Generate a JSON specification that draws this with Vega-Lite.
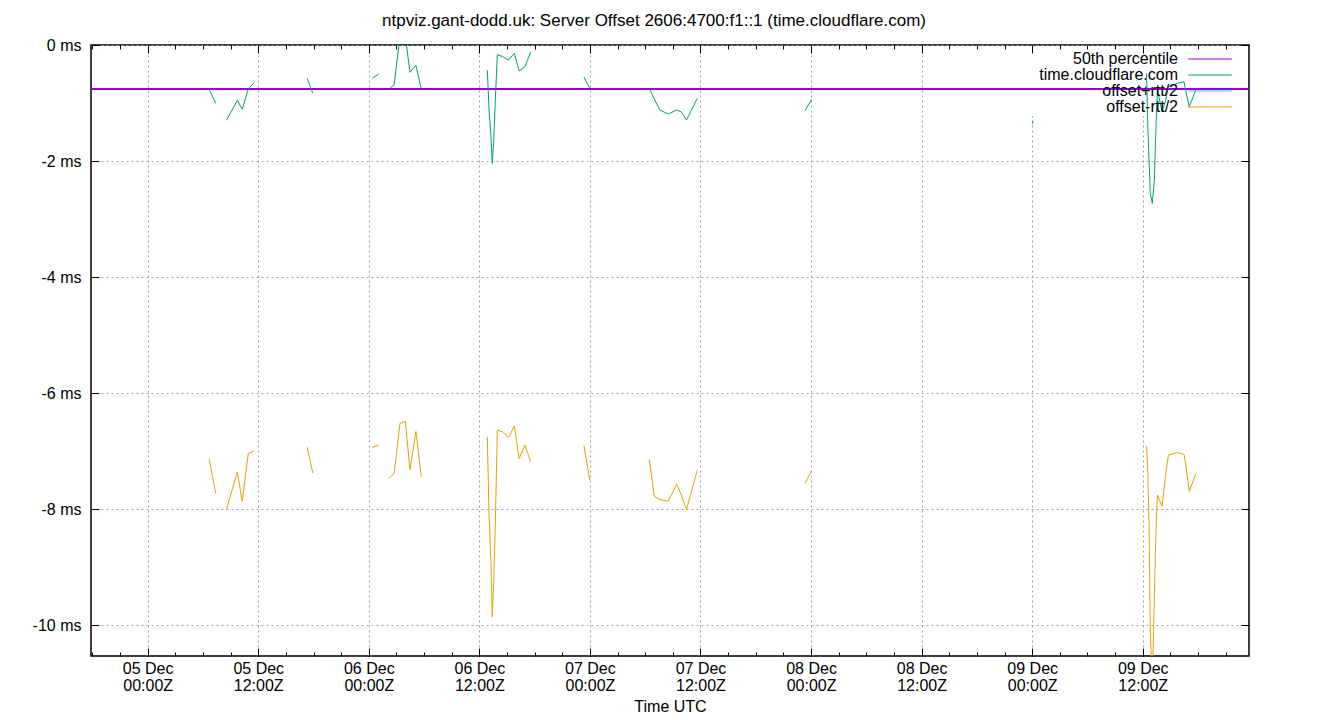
{
  "$schema": "https://vega.github.io/schema/vega-lite/v6.json",
  "width": 1158,
  "height": 611,
  "autosize": "none",
  "padding": {"left": 91, "top": 45, "right": 91, "bottom": 64},
  "background": "white",
  "title": {
    "text": "ntpviz.gant-dodd.uk: Server Offset 2606:4700:f1::1 (time.cloudflare.com)",
    "font": "Liberation Sans",
    "fontSize": 17,
    "fontWeight": "normal",
    "color": "black",
    "anchor": "middle",
    "dx": -16,
    "offset": 7.5
  },
  "config": {
    "font": "Liberation Sans",
    "view": {"stroke": "black", "strokeWidth": 1.5},
    "axis": {
      "labelFont": "Liberation Sans",
      "labelFontSize": 16,
      "labelColor": "black",
      "titleFont": "Liberation Sans",
      "titleFontSize": 16,
      "titleFontWeight": "normal",
      "titleColor": "black",
      "tickColor": "black",
      "tickWidth": 1,
      "domain": false,
      "gridColor": "#a0a0a0",
      "gridDash": [2, 3],
      "gridWidth": 1,
      "labelOverlap": false,
      "labelFlush": false
    }
  },
  "data": {
    "values": [
      {"t": "2024-12-05T06:41:00Z", "seg": "A", "off": -0.764, "low": -7.138},
      {"t": "2024-12-05T07:23:00Z", "seg": "A", "off": -1.005, "low": -7.729},
      {"t": "2024-12-05T08:33:00Z", "seg": "B", "off": -1.298, "low": -8.0},
      {"t": "2024-12-05T09:44:00Z", "seg": "B", "off": -0.953, "low": -7.362},
      {"t": "2024-12-05T10:16:00Z", "seg": "B", "off": -1.109, "low": -7.867},
      {"t": "2024-12-05T10:55:00Z", "seg": "B", "off": -0.753, "low": -7.04},
      {"t": "2024-12-05T11:30:00Z", "seg": "B", "off": -0.66, "low": -7.0},
      {"t": "2024-12-05T17:19:00Z", "seg": "C", "off": -0.574, "low": -6.931},
      {"t": "2024-12-05T17:55:00Z", "seg": "C", "off": -0.833, "low": -7.374},
      {"t": "2024-12-06T00:23:00Z", "seg": "D", "off": -0.574, "low": -6.936},
      {"t": "2024-12-06T01:04:00Z", "seg": "D", "off": -0.5, "low": -6.897},
      {"t": "2024-12-06T02:10:00Z", "seg": "E", "off": -0.764, "low": -7.47},
      {"t": "2024-12-06T02:45:00Z", "seg": "E", "off": -0.684, "low": -7.384},
      {"t": "2024-12-06T03:23:00Z", "seg": "E", "off": 0.15, "low": -6.52},
      {"t": "2024-12-06T03:58:00Z", "seg": "E", "off": 0.15, "low": -6.488},
      {"t": "2024-12-06T04:28:00Z", "seg": "E", "off": -0.471, "low": -7.316},
      {"t": "2024-12-06T05:07:00Z", "seg": "E", "off": -0.35, "low": -6.66},
      {"t": "2024-12-06T05:42:00Z", "seg": "E", "off": -0.764, "low": -7.443},
      {"t": "2024-12-06T12:52:00Z", "seg": "F", "off": -0.431, "low": -6.753},
      {"t": "2024-12-06T13:03:00Z", "seg": "F", "off": -1.121, "low": -8.103},
      {"t": "2024-12-06T13:16:00Z", "seg": "F", "off": -1.581, "low": -8.93},
      {"t": "2024-12-06T13:24:00Z", "seg": "F", "off": -2.04, "low": -9.857},
      {"t": "2024-12-06T13:34:00Z", "seg": "F", "off": -1.638, "low": -9.224},
      {"t": "2024-12-06T13:44:00Z", "seg": "F", "off": -0.948, "low": -8.247},
      {"t": "2024-12-06T13:57:00Z", "seg": "F", "off": -0.167, "low": -6.638},
      {"t": "2024-12-06T14:31:00Z", "seg": "F", "off": -0.2, "low": -6.667},
      {"t": "2024-12-06T15:10:00Z", "seg": "F", "off": -0.259, "low": -6.764},
      {"t": "2024-12-06T15:48:00Z", "seg": "F", "off": -0.143, "low": -6.569},
      {"t": "2024-12-06T16:19:00Z", "seg": "F", "off": -0.448, "low": -7.126},
      {"t": "2024-12-06T16:57:00Z", "seg": "F", "off": -0.374, "low": -6.897},
      {"t": "2024-12-06T17:34:00Z", "seg": "F", "off": -0.121, "low": -7.184},
      {"t": "2024-12-06T23:21:00Z", "seg": "G", "off": -0.552, "low": -6.897},
      {"t": "2024-12-06T23:59:00Z", "seg": "G", "off": -0.747, "low": -7.5},
      {"t": "2024-12-07T06:27:00Z", "seg": "H", "off": -0.747, "low": -7.143},
      {"t": "2024-12-07T06:59:00Z", "seg": "H", "off": -0.931, "low": -7.776},
      {"t": "2024-12-07T07:36:00Z", "seg": "H", "off": -1.121, "low": -7.833},
      {"t": "2024-12-07T08:30:00Z", "seg": "H", "off": -1.19, "low": -7.862},
      {"t": "2024-12-07T09:25:00Z", "seg": "H", "off": -1.121, "low": -7.569},
      {"t": "2024-12-07T09:53:00Z", "seg": "H", "off": -1.15, "low": -7.74},
      {"t": "2024-12-07T10:29:00Z", "seg": "H", "off": -1.293, "low": -8.005},
      {"t": "2024-12-07T11:39:00Z", "seg": "H", "off": -0.919, "low": -7.328},
      {"t": "2024-12-07T23:21:00Z", "seg": "I", "off": -1.133, "low": -7.55},
      {"t": "2024-12-08T00:04:00Z", "seg": "I", "off": -0.936, "low": -7.33},
      {"t": "2024-12-09T00:03:00Z", "seg": "J", "off": -1.31, "low": null},
      {"t": "2024-12-09T00:04:00Z", "seg": "J", "off": -1.36, "low": null},
      {"t": "2024-12-09T12:25:00Z", "seg": "K", "off": -0.488, "low": -6.914},
      {"t": "2024-12-09T12:33:00Z", "seg": "K", "off": -1.379, "low": -7.357},
      {"t": "2024-12-09T12:41:00Z", "seg": "K", "off": -1.983, "low": -8.276},
      {"t": "2024-12-09T12:49:00Z", "seg": "K", "off": -2.552, "low": -10.086},
      {"t": "2024-12-09T13:02:00Z", "seg": "K", "off": -2.729, "low": -11.0},
      {"t": "2024-12-09T13:16:00Z", "seg": "K", "off": -2.33, "low": -9.51},
      {"t": "2024-12-09T13:22:00Z", "seg": "K", "off": -1.753, "low": -8.793},
      {"t": "2024-12-09T13:30:00Z", "seg": "K", "off": -1.121, "low": -8.103},
      {"t": "2024-12-09T13:36:00Z", "seg": "K", "off": -0.776, "low": -7.759},
      {"t": "2024-12-09T14:06:00Z", "seg": "K", "off": -1.15, "low": -7.948},
      {"t": "2024-12-09T14:27:00Z", "seg": "K", "off": -0.978, "low": -7.443},
      {"t": "2024-12-09T14:47:00Z", "seg": "K", "off": -0.719, "low": -7.069},
      {"t": "2024-12-09T15:45:00Z", "seg": "K", "off": -0.66, "low": -7.022},
      {"t": "2024-12-09T16:29:00Z", "seg": "K", "off": -0.633, "low": -7.057},
      {"t": "2024-12-09T16:42:00Z", "seg": "K", "off": -0.81, "low": -7.271},
      {"t": "2024-12-09T17:03:00Z", "seg": "K", "off": -1.064, "low": -7.69},
      {"t": "2024-12-09T17:45:00Z", "seg": "K", "off": -0.781, "low": -7.397}
    ]
  },
  "layer": [
    {
      "mark": {"type": "rect", "fill": "white"},
      "encoding": {
        "x": {
          "datum": 1733700600000,
          "type": "temporal",
          "axis": {
            "orient": "top",
            "title": null,
            "labels": false,
            "grid": false,
            "values": [1733356800000, 1733400000000, 1733443200000, 1733486400000, 1733529600000, 1733572800000, 1733616000000, 1733659200000, 1733702400000, 1733745600000],
            "offset": -8,
            "tickSize": 8
          }
        },
        "x2": {"datum": 1733785500000},
        "y": {
          "datum": -0.16,
          "type": "quantitative",
          "axis": {
            "orient": "right",
            "title": null,
            "labels": false,
            "grid": false,
            "values": [0, -2, -4, -6, -8, -10],
            "offset": -8,
            "tickSize": 8
          }
        },
        "y2": {"datum": -1.21}
      }
    },
    {
      "mark": {"type": "rule", "strokeWidth": 1.5},
      "encoding": {
        "x": {
          "datum": 1733334660000,
          "type": "temporal",
          "axis": {
            "orient": "top",
            "title": null,
            "labels": false,
            "grid": false,
            "values": [1733335200000, 1733346000000, 1733356800000, 1733367600000, 1733378400000, 1733389200000, 1733400000000, 1733410800000, 1733421600000, 1733432400000, 1733443200000, 1733454000000, 1733464800000, 1733475600000, 1733486400000, 1733497200000, 1733508000000, 1733518800000, 1733529600000, 1733540400000, 1733551200000, 1733562000000, 1733572800000, 1733583600000, 1733594400000, 1733605200000, 1733616000000, 1733626800000, 1733637600000, 1733648400000, 1733659200000, 1733670000000, 1733680800000, 1733691600000, 1733702400000, 1733713200000, 1733724000000, 1733734800000, 1733745600000, 1733756400000, 1733767200000, 1733778000000],
            "offset": -4,
            "tickSize": 4
          }
        },
        "x2": {"datum": 1733787120000},
        "y": {"datum": -0.76, "type": "quantitative", "axis": null},
        "color": {
          "datum": "50th percentile",
          "type": "nominal",
          "scale": {
            "domain": ["50th percentile", "time.cloudflare.com", "offset+rtt/2", "offset-rtt/2"],
            "range": ["#9400d3", "#009e73", "#56b4e9", "#e69f00"]
          },
          "legend": {
            "orient": "none",
            "legendX": 1111,
            "legendY": 6,
            "title": null,
            "symbolType": "M-2.9,0H2.9",
            "symbolSize": 225,
            "symbolStrokeWidth": 1,
            "labelFont": "Liberation Sans",
            "labelFontSize": 16,
            "labelColor": "black",
            "labelAlign": "right",
            "labelOffset": -40,
            "labelLimit": 400,
            "rowPadding": -0.7,
            "padding": 0
          }
        }
      }
    },
    {
      "mark": {"type": "line", "strokeWidth": 1, "clip": true},
      "encoding": {
        "x": {
          "field": "t",
          "type": "temporal",
          "scale": {"type": "utc", "domain": [1733334660000, 1733787120000]},
          "axis": {
            "orient": "bottom",
            "title": null,
            "grid": true,
            "values": [1733356800000, 1733400000000, 1733443200000, 1733486400000, 1733529600000, 1733572800000, 1733616000000, 1733659200000, 1733702400000, 1733745600000],
            "labelExpr": "utcFormat(datum.value, '%d %b')",
            "offset": -8,
            "tickSize": 8,
            "labelPadding": 4
          }
        },
        "y": {
          "field": "off",
          "type": "quantitative",
          "scale": {"domain": [-10.53, 0], "nice": false, "zero": false},
          "axis": {
            "orient": "left",
            "title": null,
            "grid": true,
            "values": [0, -2, -4, -6, -8, -10],
            "labelExpr": "datum.value + ' ms'",
            "offset": -8,
            "tickSize": 8,
            "labelPadding": 10
          }
        },
        "detail": {"field": "seg", "type": "nominal"},
        "color": {"datum": "time.cloudflare.com", "type": "nominal"}
      }
    },
    {
      "transform": [{"filter": "datum.low != null"}],
      "mark": {"type": "line", "strokeWidth": 1, "clip": true},
      "encoding": {
        "x": {
          "field": "t",
          "type": "temporal",
          "axis": {
            "orient": "bottom",
            "title": "Time UTC",
            "titlePadding": 5,
            "grid": false,
            "values": [1733335200000, 1733346000000, 1733356800000, 1733367600000, 1733378400000, 1733389200000, 1733400000000, 1733410800000, 1733421600000, 1733432400000, 1733443200000, 1733454000000, 1733464800000, 1733475600000, 1733486400000, 1733497200000, 1733508000000, 1733518800000, 1733529600000, 1733540400000, 1733551200000, 1733562000000, 1733572800000, 1733583600000, 1733594400000, 1733605200000, 1733616000000, 1733626800000, 1733637600000, 1733648400000, 1733659200000, 1733670000000, 1733680800000, 1733691600000, 1733702400000, 1733713200000, 1733724000000, 1733734800000, 1733745600000, 1733756400000, 1733767200000, 1733778000000],
            "labelExpr": "utchours(datum.value) % 12 == 0 ? utcFormat(datum.value, '%H:%MZ') : ''",
            "offset": -4,
            "tickSize": 4,
            "labelPadding": 21
          }
        },
        "y": {"field": "low", "type": "quantitative", "axis": null},
        "detail": {"field": "seg", "type": "nominal"},
        "color": {"datum": "offset-rtt/2", "type": "nominal"}
      }
    }
  ],
  "resolve": {"axis": {"x": "independent", "y": "independent"}}
}
